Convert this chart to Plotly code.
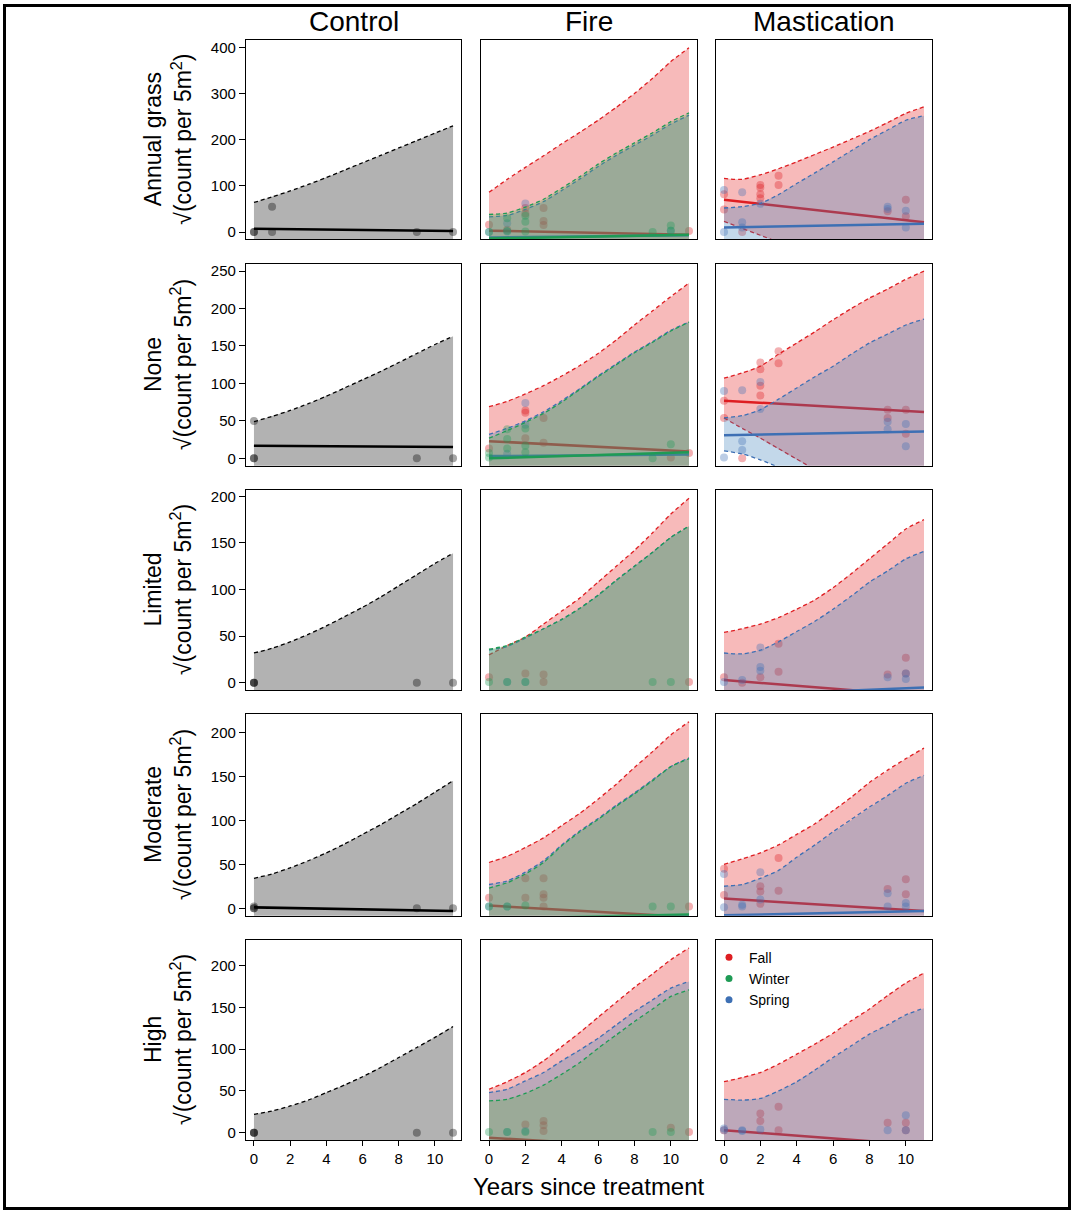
import plotly.graph_objects as go

# ---------------- data ----------------
YEARS = list(range(12))          # 0..11 years since treatment (curve knots)
FIT_X = [0, 11]                  # fitted straight lines run over the full span
ROW_NAMES = ["Annual grass", "None", "Limited", "Moderate", "High"]
COL_NAMES = ["Control", "Fire", "Mastication"]
X_TICKS = [0, 2, 4, 6, 8, 10]
Y_TICKS = [[0, 100, 200, 300, 400], [0, 50, 100, 150, 200, 250],
           [0, 50, 100, 150, 200], [0, 50, 100, 150, 200], [0, 50, 100, 150, 200]]
Y_RANGES = [[-16, 416], [-10, 259], [-8, 207], [-8.5, 220.5], [-8.9, 230.9]]

# upper confidence bounds (per row)
CONTROL_UPPER = [
    [64, 76, 89, 103, 118, 134, 150, 166, 182, 198, 214, 230],
    [49, 56, 64, 73, 83, 94, 105, 116, 128, 140, 152, 163],
    [32, 37, 44, 52, 61, 71, 81, 92, 104, 116, 128, 139],
    [34, 39, 46, 54, 63, 73, 84, 95, 107, 119, 132, 145],
    [22, 26, 32, 39, 48, 57, 67, 78, 90, 102, 114, 127],
]
FIRE_FALL_UPPER = [
    [86, 114, 140, 165, 191, 216, 242, 270, 300, 333, 369, 399],
    [69, 76, 86, 97, 110, 124, 140, 158, 178, 197, 216, 234],
    [30, 40, 49, 63, 77, 91, 108, 125, 142, 161, 181, 198],
    [52, 59, 69, 80, 94, 108, 124, 141, 160, 178, 197, 212],
    [52, 61, 72, 86, 103, 120, 138, 156, 174, 190, 207, 221],
]
FIRE_SPRING_UPPER = [
    [33, 36, 49, 66, 90, 115, 142, 166, 188, 210, 234, 253],
    [32, 40, 50, 62, 77, 93, 110, 126, 142, 156, 171, 182],
    [35, 39, 48, 58, 68, 80, 94, 110, 125, 140, 156, 168],
    [27, 31, 41, 54, 72, 88, 102, 117, 131, 146, 161, 171],
    [48, 52, 62, 72, 86, 99, 113, 129, 145, 159, 173, 181],
]
FIRE_WINTER_UPPER = [
    [38, 41, 54, 71, 95, 120, 147, 171, 193, 215, 239, 258],
    [27, 37, 48, 60, 75, 92, 109, 125, 141, 155, 170, 182],
    [36, 40, 49, 58, 68, 80, 94, 110, 125, 140, 156, 168],
    [23, 29, 39, 52, 71, 87, 101, 116, 130, 145, 161, 170],
    [38, 40, 47, 57, 70, 84, 101, 117, 133, 148, 163, 171],
]
MAST_FALL_UPPER = [
    [116, 114, 124, 137, 152, 168, 184, 201, 218, 237, 257, 271],
    [107, 114, 123, 139, 154, 169, 185, 200, 214, 226, 239, 250],
    [54, 58, 63, 70, 79, 89, 102, 117, 133, 149, 165, 175],
    [50, 56, 63, 72, 84, 96, 111, 126, 143, 157, 170, 182],
    [61, 66, 72, 82, 94, 106, 119, 134, 148, 164, 179, 191],
]
MAST_SPRING_UPPER = [
    [52, 55, 62, 81, 105, 128, 152, 176, 200, 221, 242, 252],
    [54, 57, 65, 79, 94, 109, 123, 139, 154, 166, 178, 186],
    [32, 31, 35, 44, 55, 66, 79, 93, 108, 120, 133, 141],
    [25, 27, 34, 43, 58, 72, 87, 101, 115, 128, 142, 151],
    [40, 39, 41, 50, 61, 75, 90, 104, 118, 129, 141, 149],
]
# lower bounds: None = entirely below the plotted range
MAST_FALL_LOWER = [
    [23, 8, -7, -22, -37, -52, -67, -82, -97, -112, -127, -142],
    [54, 40, 27, 13, -1, -15, -29, -43, -57, -71, -85, -99],
    None, None, None,
]
MAST_SPRING_LOWER = [
    None,
    [10, 6, -2, -12, -24, -36, -48, -60, -72, -84, -96, -108],
    None, None, None,
]

# fitted lines: value at year 0 and at year 11
CONTROL_FIT = [[7, 2], [17, 15], [-14, -16], [1, -3], [-14, -16]]
FIRE_FALL_FIT = [[3, -6], [23, 9], [-12, -20], [3, -10], [-6, -20]]
FIRE_SPRING_FIT = [[-12, -7], [3, 5], [-14, -14], [-14, -9], [-15, -15]]
FIRE_WINTER_FIT = [[-14, -6], [0, 8], [-14, -14], [-12, -7], [-15, -15]]
MAST_FALL_FIT = [[70, 21], [77, 62], [3, -14], [11, -3], [3, -15]]
MAST_SPRING_FIT = [[10, 18], [31, 36], [-14, -5], [-8, -3], [-15, -15]]

# observations
CONTROL_PX = [[0, 0, 1, 1, 9, 11], [0, 0, 0, 9, 11], [0, 0, 0, 9, 11], [0, 0, 0, 9, 11], [0, 0, 0, 9, 11]]
CONTROL_PY = [[0, 0, 0, 55, 0, 0], [0, 0, 50, 0, 0], [0, 0, 0, 0, 0], [0, 0, 2, 0, 0], [0, 0, 0, 0, 0]]

FIRE_FALL_PX = [[0, 1, 2, 2, 3, 3, 3, 11], [0, 2, 2, 2, 3, 3, 10, 11], [0, 2, 3, 3, 11],
                [0, 2, 2, 3, 3, 3, 3, 11], [2, 3, 3, 3, 10, 11]]
FIRE_FALL_PY = [[16, 5, 52, 40, 52, 24, 15, 2], [13, 61, 64, 27, 54, 21, 1, 7], [6, 10, 9, 1, 1],
                [12, 12, 34, 34, 16, 12, 2, 2], [10, 14, 9, 2, 6, 1]]
FIRE_SPRING_PX = [[0, 1, 1, 2, 10], [1, 2, 2], [1, 2], [0, 1], [1, 2]]
FIRE_SPRING_PY = [[0, 19, 1, 62, 3], [6, 74, 45], [1, 1], [2, 2], [1, 2]]
FIRE_WINTER_PX = [[0, 1, 1, 2, 2, 2, 9, 10, 10], [0, 0, 1, 1, 1, 2, 2, 2, 9, 10],
                  [0, 1, 2, 9, 10], [0, 1, 2, 9, 10], [0, 1, 2, 9, 10]]
FIRE_WINTER_PY = [[0, 30, 2, 35, 22, 1, 0, 14, 3], [7, 1, 39, 26, 13, 40, 17, 8, 0, 19],
                  [1, 1, 1, 1, 1], [2, 2, 3, 2, 2], [1, 1, 1, 1, 1]]

MAST_FALL_PX = [[0, 0, 1, 2, 2, 2, 2, 3, 3, 9, 10, 10], [0, 0, 1, 2, 2, 2, 2, 3, 3, 9, 9, 10, 10],
                [0, 1, 2, 3, 3, 9, 10, 10], [0, 0, 2, 2, 2, 3, 3, 9, 10, 10], [0, 2, 2, 3, 3, 9, 10, 10]]
MAST_FALL_PY = [[82, 49, 0, 102, 96, 82, 73, 122, 102, 45, 70, 34],
                [77, 54, 0, 128, 119, 97, 84, 143, 127, 65, 54, 33, 65],
                [6, 0, 6, 42, 12, 9, 27, 10], [45, 15, 25, 19, 5, 57, 20, 22, 33, 16],
                [3, 23, 14, 31, 3, 12, 12, 3]]
MAST_SPRING_PX = [[0, 0, 1, 1, 1, 2, 9, 9, 10, 10], [0, 0, 1, 1, 1, 2, 2, 9, 9, 10, 10],
                  [0, 1, 2, 2, 2, 9, 10, 10], [0, 0, 1, 1, 2, 2, 9, 9, 10, 10], [0, 0, 1, 1, 2, 9, 10, 10]]
MAST_SPRING_PY = [[91, 0, 86, 21, 10, 61, 55, 50, 46, 10], [90, 1, 91, 23, 11, 102, 66, 49, 39, 46, 16],
                  [1, 3, 38, 17, 13, 6, 4, 10], [39, 1, 2, 4, 41, 10, 17, 2, 6, 2],
                  [3, 5, 3, 2, 4, 3, 21, 3]]

# ---------------- styling ----------------
# (line colour, fill colour)
FALL = ((222, 30, 34), (228, 26, 28))
SPRING = ((62, 112, 180), (55, 126, 184))
WINTER = ((30, 155, 85), (77, 175, 74))
BLACK = ((0, 0, 0), (0, 0, 0))
FONT = "Liberation Sans, Arial, sans-serif"
W, H = 1074, 1213
COL_PX = [(246, 461), (481, 697), (716, 932)]
ROW_PX = [(38, 238), (263, 465), (489, 690), (714, 916), (940, 1141)]


def rgba(c, a):
    return f"rgba({c[0]},{c[1]},{c[2]},{a})"


def px_x(p):
    return p / W


def px_y(p):
    return 1 - p / H


fig = go.Figure()


def add_series(k, r, colors, upper, lower, fit, px, py, pt_alpha=0.35):
    lc, fc = colors
    xa = "x" if k == 1 else f"x{k}"
    ya = "y" if k == 1 else f"y{k}"
    ymin = Y_RANGES[r][0]
    low = lower if lower is not None else [ymin - 60] * len(YEARS)
    common = dict(xaxis=xa, yaxis=ya, showlegend=False, hoverinfo="skip")
    fig.add_trace(go.Scatter(x=YEARS + YEARS[::-1], y=upper + low[::-1], fill="toself",
                             fillcolor=rgba(fc, 0.3), mode="lines",
                             line=dict(width=0), **common))
    dash = dict(color=rgba(lc, 1), width=1.3, dash="4px,3px", shape="spline", smoothing=0.6)
    fig.add_trace(go.Scatter(x=YEARS, y=upper, mode="lines", line=dash, **common))
    if lower is not None:
        fig.add_trace(go.Scatter(x=YEARS, y=lower, mode="lines", line=dash, **common))
    fig.add_trace(go.Scatter(x=FIT_X, y=fit, mode="lines",
                             line=dict(color=rgba(lc, 1), width=2.5), **common))
    fig.add_trace(go.Scatter(x=px, y=py, mode="markers",
                             marker=dict(size=8, color=rgba(lc, pt_alpha), line=dict(width=0)),
                             **common))


for r in range(5):
    k = r * 3 + 1
    add_series(k, r, BLACK, CONTROL_UPPER[r], None, CONTROL_FIT[r], CONTROL_PX[r], CONTROL_PY[r], 0.35)
    k = r * 3 + 2
    add_series(k, r, FALL, FIRE_FALL_UPPER[r], None, FIRE_FALL_FIT[r], FIRE_FALL_PX[r], FIRE_FALL_PY[r])
    add_series(k, r, SPRING, FIRE_SPRING_UPPER[r], None, FIRE_SPRING_FIT[r], FIRE_SPRING_PX[r], FIRE_SPRING_PY[r])
    add_series(k, r, WINTER, FIRE_WINTER_UPPER[r], None, FIRE_WINTER_FIT[r], FIRE_WINTER_PX[r], FIRE_WINTER_PY[r])
    k = r * 3 + 3
    add_series(k, r, FALL, MAST_FALL_UPPER[r], MAST_FALL_LOWER[r], MAST_FALL_FIT[r], MAST_FALL_PX[r], MAST_FALL_PY[r])
    add_series(k, r, SPRING, MAST_SPRING_UPPER[r], MAST_SPRING_LOWER[r], MAST_SPRING_FIT[r], MAST_SPRING_PX[r], MAST_SPRING_PY[r])

# legend entries
for name, col in [("Fall", FALL), ("Winter", WINTER), ("Spring", SPRING)]:
    fig.add_trace(go.Scatter(x=[None], y=[None], mode="markers", name=name,
                             marker=dict(size=7, color=rgba(col[0], 1)),
                             xaxis="x15", yaxis="y15", showlegend=True))

layout = dict(
    width=W, height=H, margin=dict(l=0, r=0, t=0, b=0),
    paper_bgcolor="white", plot_bgcolor="white",
    font=dict(family=FONT, size=15, color="black"),
    showlegend=True,
    legend=dict(x=px_x(709), y=px_y(942), xanchor="left", yanchor="top",
                bgcolor="rgba(0,0,0,0)", font=dict(size=14, family=FONT),
                tracegroupgap=0, itemwidth=30),
)

for r in range(5):
    for c in range(3):
        k = r * 3 + c + 1
        xs = "" if k == 1 else str(k)
        x0, x1 = COL_PX[c]
        y0, y1 = ROW_PX[r]
        layout[f"xaxis{xs}"] = dict(
            domain=[px_x(x0), px_x(x1)], anchor=f"y{xs}", range=[-0.44, 11.44],
            showgrid=False, zeroline=False, showline=True, mirror=True,
            linecolor="black", linewidth=1.3,
            tickvals=X_TICKS, ticks="outside" if r == 4 else "",
            ticklen=5, tickwidth=1.2, tickcolor="black",
            showticklabels=(r == 4), tickfont=dict(size=15, family=FONT),
        )
        layout[f"yaxis{xs}"] = dict(
            domain=[px_y(y1), px_y(y0)], anchor=f"x{xs}", range=Y_RANGES[r],
            showgrid=False, zeroline=False, showline=True, mirror=True,
            linecolor="black", linewidth=1.3,
            tickvals=Y_TICKS[r], ticks="outside" if c == 0 else "",
            ticklen=6, tickwidth=1.2, tickcolor="black",
            showticklabels=(c == 0), tickfont=dict(size=15, family=FONT),
        )

annotations = []
for c, name in enumerate(COL_NAMES):
    annotations.append(dict(text=name, x=px_x((COL_PX[c][0] + COL_PX[c][1]) / 2), y=px_y(20),
                            xref="paper", yref="paper", showarrow=False,
                            xanchor="center", yanchor="middle",
                            font=dict(size=28, family=FONT)))
for r, name in enumerate(ROW_NAMES):
    annotations.append(dict(text=f"{name}<br>√(count per 5m<sup>2</sup>)",
                            x=px_x(168), y=px_y((ROW_PX[r][0] + ROW_PX[r][1]) / 2),
                            xref="paper", yref="paper", showarrow=False, textangle=-90,
                            xanchor="center", yanchor="middle",
                            font=dict(size=23, family=FONT)))
annotations.append(dict(text="Years since treatment", x=px_x(589), y=px_y(1187),
                        xref="paper", yref="paper", showarrow=False,
                        xanchor="center", yanchor="middle", font=dict(size=24, family=FONT)))
layout["annotations"] = annotations
layout["shapes"] = [dict(type="rect", xref="paper", yref="paper",
                         x0=px_x(4.5), x1=px_x(1069.5), y0=px_y(1209.5), y1=px_y(3.5),
                         line=dict(color="black", width=3), fillcolor="rgba(0,0,0,0)")]

fig.update_layout(**layout)
fig.write_html("out.html", config={"displayModeBar": False},
               post_script="document.body.style.margin='0px';document.body.style.overflow='hidden';")
